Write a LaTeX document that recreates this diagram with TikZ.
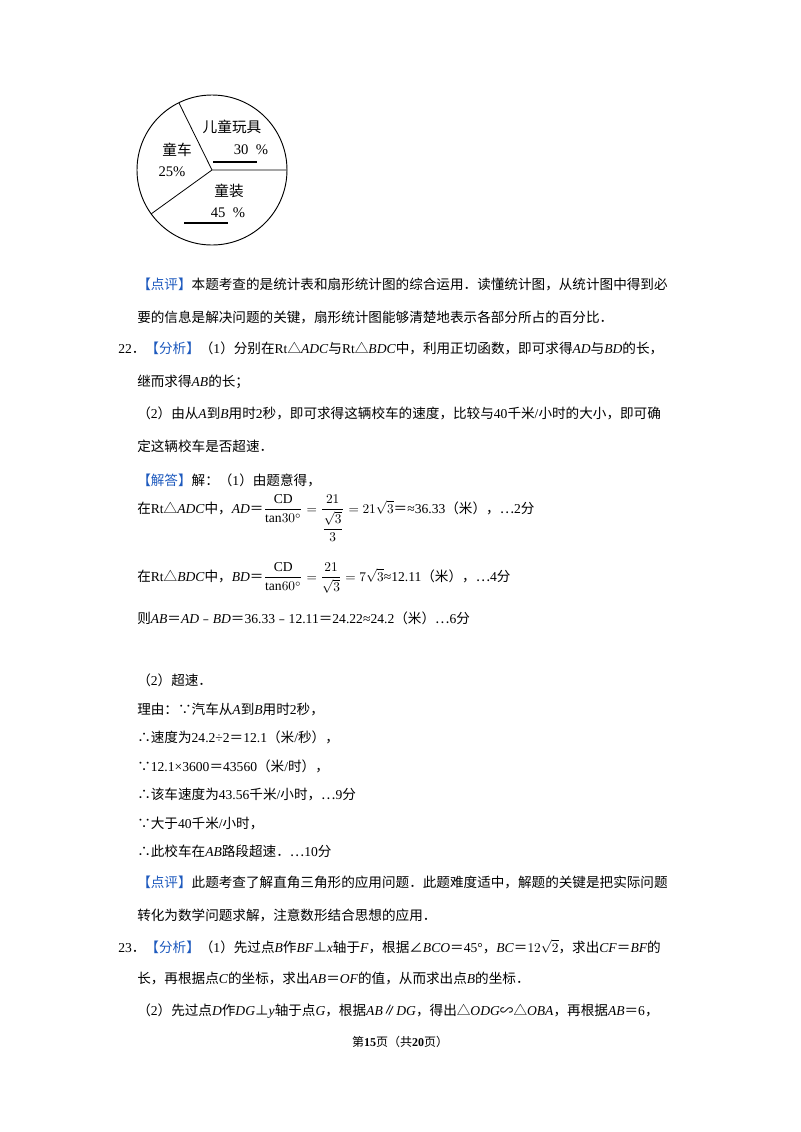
\documentclass[tikz,border=0pt]{standalone}
\usepackage{amsmath}
\usepackage{fontspec}
\setmainfont{Liberation Serif}
\newfontfamily\cjkf{Noto Sans CJK SC}
\XeTeXinterchartokenstate=1
\newXeTeXintercharclass\CJKcls
\def\setcls#1#2{\count255=#1 \loop\XeTeXcharclass\count255=\CJKcls\ifnum\count255<#2 \advance\count255 1 \repeat}
\setcls{"4E00}{"9FFF}
\setcls{"3000}{"303F}
\setcls{"FF00}{"FFEF}
\setcls{"FE30}{"FE6F}
\XeTeXcharclass"2235=\CJKcls \XeTeXcharclass"2234=\CJKcls
\XeTeXcharclass"25B3=\CJKcls \XeTeXcharclass"2220=\CJKcls
\XeTeXcharclass"22A5=\CJKcls \XeTeXcharclass"223D=\CJKcls
\XeTeXcharclass"2225=\CJKcls \XeTeXcharclass"22EF=\CJKcls
\XeTeXinterchartoks 0 \CJKcls = {\cjkf}
\XeTeXinterchartoks 4095 \CJKcls = {\cjkf}
\XeTeXinterchartoks \CJKcls 0 = {\rmfamily}
\XeTeXinterchartoks 4095 0 = {\rmfamily}
\definecolor{tb}{RGB}{30,90,190}
\newcommand\bl[1]{\textcolor{tb}{#1}}
\newcommand\dd{{\cjkf ⋯}}
\begin{document}
\begin{tikzpicture}[x=0.75pt,y=-0.75pt,
  tx/.style={anchor=base west,inner sep=0pt,font=\fontsize{10.2}{13}\selectfont},
  pl/.style={anchor=center,inner sep=0pt,font=\fontsize{11}{13}\selectfont}]
\useasboundingbox[fill=white] (0,0) rectangle (800,1132);
% pie
\coordinate (c) at (212,170);
\draw[line width=0.7pt] (c) circle (75);
\coordinate (e1) at (287,170);
\coordinate (e2) at (179,103);
\coordinate (e3) at (151,214);
\draw[line width=0.6pt] (e1) -- (c) -- (e2) (c) -- (e3);
\node[pl] (l1) at (232,127) {儿童玩具};
\node[pl] (l2) at (251,150) {30\ \ \%};
\coordinate (u1) at (213,162); \coordinate (u2) at (257,162);
\draw[line width=0.8pt] (u1) -- (u2);
\node[pl] (l3) at (177,150) {童车};
\node[pl] (l4) at (172,172) {25\%};
\node[pl] (l5) at (229,191) {童装};
\node[pl] (l6) at (228,213) {45\ \ \%};
\coordinate (u3) at (184,223); \coordinate (u4) at (228,223);
\draw[line width=0.8pt] (u3) -- (u4);
% text
\node[tx] (t1) at (137,289) {\bl{【点评】}本题考查的是统计表和扇形统计图的综合运用．读懂统计图，从统计图中得到必};
\node[tx] (t2) at (137,322) {要的信息是解决问题的关键，扇形统计图能够清楚地表示各部分所占的百分比．};
\node[tx] (t3) at (118,353) {22．\bl{【分析】}（1）分别在Rt△\textit{ADC}与Rt△\textit{BDC}中，利用正切函数，即可求得\textit{AD}与\textit{BD}的长，};
\node[tx] (t4) at (137,386) {继而求得\textit{AB}的长；};
\node[tx] (t5) at (137,418) {（2）由从\textit{A}到\textit{B}用时2秒，即可求得这辆校车的速度，比较与40千米/小时的大小，即可确};
\node[tx] (t6) at (137,451) {定这辆校车是否超速．};
\node[tx] (t7) at (137,485) {\bl{【解答】}解：（1）由题意得，};
\node[tx] (t8) at (137,513) {在Rt△\textit{ADC}中，\textit{AD}＝$\dfrac{\mathrm{CD}}{\mathrm{tan}30^\circ}=\dfrac{21}{\dfrac{\sqrt3}{3}}=21\sqrt3$＝≈36.33（米），\dd 2分};
\node[tx] (t9) at (137,581) {在Rt△\textit{BDC}中，\textit{BD}＝$\dfrac{\mathrm{CD}}{\mathrm{tan}60^\circ}=\dfrac{21}{\sqrt3}=7\sqrt3$≈12.11（米），\dd 4分};
\node[tx] (t10) at (137,623) {则\textit{AB}＝\textit{AD}﹣\textit{BD}＝36.33﹣12.11＝24.22≈24.2（米）\dd 6分};
\node[tx] (t11) at (137,685) {（2）超速．};
\node[tx] (t12) at (137,714) {理由：∵汽车从\textit{A}到\textit{B}用时2秒，};
\node[tx] (t13) at (137,742) {∴速度为24.2÷2＝12.1（米/秒），};
\node[tx] (t14) at (137,771) {∵12.1×3600＝43560（米/时），};
\node[tx] (t15) at (137,799) {∴该车速度为43.56千米/小时，\dd 9分};
\node[tx] (t16) at (137,828) {∵大于40千米/小时，};
\node[tx] (t17) at (137,856) {∴此校车在\textit{AB}路段超速．\dd 10分};
\node[tx] (t18) at (137,887) {\bl{【点评】}此题考查了解直角三角形的应用问题．此题难度适中，解题的关键是把实际问题};
\node[tx] (t19) at (137,920) {转化为数学问题求解，注意数形结合思想的应用．};
\node[tx] (t20) at (118,952) {23．\bl{【分析】}（1）先过点\textit{B}作\textit{BF}⊥\textit{x}轴于\textit{F}，根据∠\textit{BCO}＝45°，\textit{BC}＝$12\sqrt2$，求出\textit{CF}＝\textit{BF}的};
\node[tx] (t21) at (137,983) {长，再根据点\textit{C}的坐标，求出\textit{AB}＝\textit{OF}的值，从而求出点\textit{B}的坐标．};
\node[tx] (t22) at (137,1015) {（2）先过点\textit{D}作\textit{DG}⊥\textit{y}轴于点\textit{G}，根据\textit{AB}∥\textit{DG}，得出△\textit{ODG}∽△\textit{OBA}，再根据\textit{AB}＝6，};
\node[anchor=base,inner sep=0pt,font=\fontsize{9}{11}\selectfont] (ft) at (400,1046) {第\textbf{15}页（共\textbf{20}页）};
\end{tikzpicture}
\end{document}
